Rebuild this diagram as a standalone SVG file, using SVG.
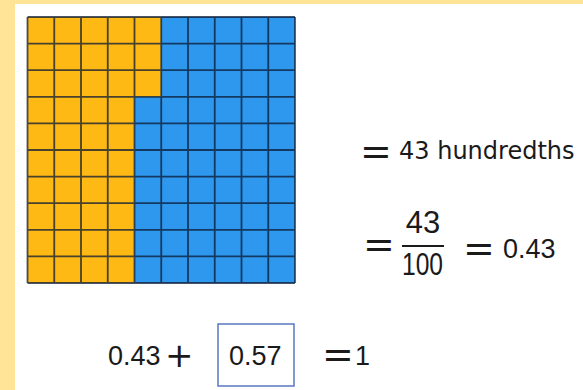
<svg xmlns="http://www.w3.org/2000/svg" width="583" height="390" viewBox="0 0 583 390">
<style>
.num{font-family:"Liberation Sans",Arial,sans-serif;fill:#1a1a1a}
.dv{font-family:"DejaVu Sans",sans-serif;fill:#1a1a1a}
.eq{font-family:"DejaVu Sans",sans-serif;fill:#1a1a1a;font-size:38px}
.grid{stroke:#0b1a33;stroke-opacity:0.75;stroke-width:1.8;fill:none}
</style>
<rect x="0" y="0" width="583" height="390" fill="#FFE497"/>
<rect x="15" y="4" width="568" height="386" fill="#FFFFFF"/>
<g id="grid">
<polygon points="27.5,17 161.25,17 161.25,96.8 134.5,96.8 134.5,283 27.5,283" fill="#FFB915"/>
<polygon points="161.25,17 295,17 295,283 134.5,283 134.5,96.8 161.25,96.8" fill="#2E98EE"/>
<path class="grid" d="M27.5,17V283M54.25,17V283M81,17V283M107.75,17V283M134.5,17V283M161.25,17V283M188,17V283M214.75,17V283M241.5,17V283M268.25,17V283M295,17V283M27.5,17H295M27.5,43.6H295M27.5,70.2H295M27.5,96.8H295M27.5,123.4H295M27.5,150H295M27.5,176.6H295M27.5,203.2H295M27.5,229.8H295M27.5,256.4H295M27.5,283H295"/>
</g>
<g id="line1">
<text class="eq" x="360" y="164">=</text>
<text class="dv" x="399" y="159" font-size="24">43 hundredths</text>
</g>
<g id="line2">
<text class="eq" x="363" y="257">=</text>
<text class="num" x="423" y="233" font-size="31" text-anchor="middle">43</text>
<rect x="402" y="245" width="42" height="2" fill="#1a1a1a"/>
<text class="num" x="402" y="275" font-size="31" textLength="41" lengthAdjust="spacingAndGlyphs">100</text>
<text class="eq" x="463" y="261">=</text>
<text class="num" x="503" y="258" font-size="27">0.43</text>
</g>
<g id="line3">
<text class="num" x="108" y="365" font-size="27">0.43</text>
<text class="dv" x="165" y="367" font-size="34">+</text>
<rect id="answer-box" x="218" y="324" width="76" height="62" fill="none" stroke="#5A78C0" stroke-width="1.5"/>
<text class="num" x="229" y="365" font-size="27">0.57</text>
<text class="eq" x="322" y="367">=</text>
<text class="num" x="355" y="365" font-size="27">1</text>
</g>
</svg>
